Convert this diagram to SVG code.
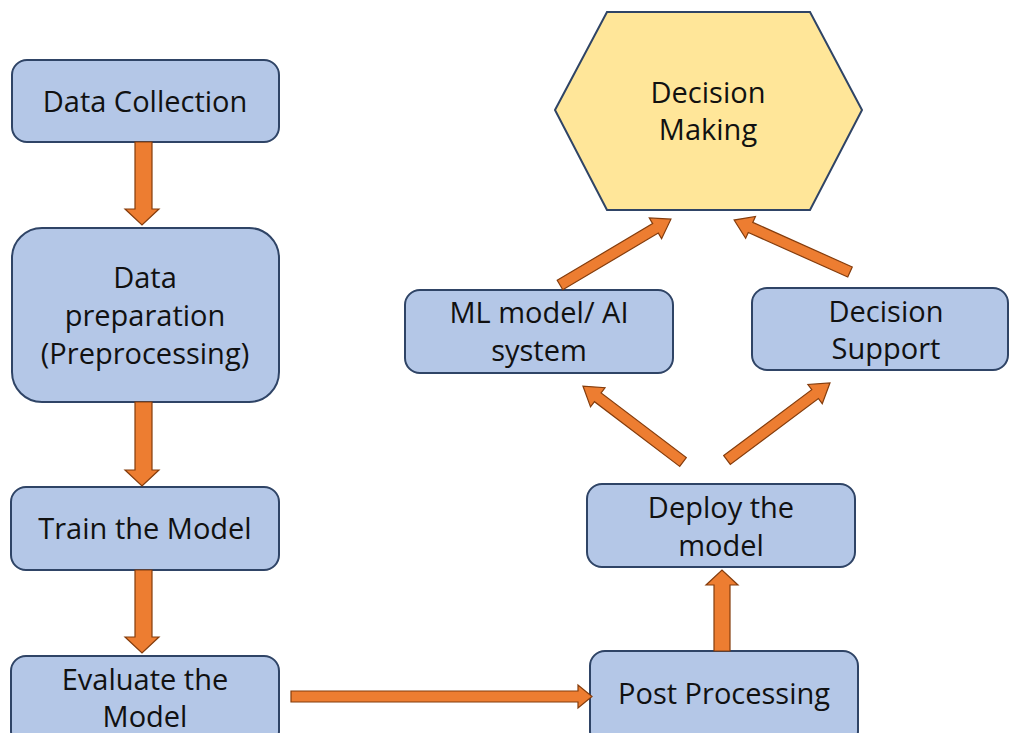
<svg xmlns="http://www.w3.org/2000/svg" width="1010" height="733" viewBox="0 0 1010 733">
<style>
.box{fill:#B4C7E7;stroke:#2F4466;stroke-width:2}
.hex{fill:#FFE699;stroke:#2F4466;stroke-width:2}
.arr{fill:#ED7D31;stroke:#843C0C;stroke-width:1.2;stroke-linejoin:miter}
.t{font-family:"Open Sans","Liberation Sans",sans-serif;font-size:29px;fill:#111;text-anchor:middle}
</style>
<rect width="1010" height="733" fill="#fff"/>
<g id="data-collection"><rect class="box" x="12" y="60" width="267" height="82" rx="15"/><text class="t" x="145" y="112">Data Collection</text></g>
<g id="data-preparation"><rect class="box" x="12" y="228" width="267" height="174" rx="30"/><text class="t" x="145" y="288">Data</text><text class="t" x="145" y="326">preparation</text><text class="t" x="145" y="364">(Preprocessing)</text></g>
<g id="train"><rect class="box" x="11" y="487" width="268" height="83" rx="15"/><text class="t" x="145" y="539">Train the Model</text></g>
<g id="evaluate"><rect class="box" x="11" y="656" width="268" height="90" rx="15"/><text class="t" x="145" y="690">Evaluate the</text><text class="t" x="145" y="727">Model</text></g>
<g id="post-processing"><rect class="box" x="590" y="651" width="268" height="95" rx="15"/><text class="t" x="724" y="704">Post Processing</text></g>
<g id="deploy"><rect class="box" x="587" y="484" width="268" height="83" rx="15"/><text class="t" x="721" y="518">Deploy the</text><text class="t" x="721" y="556">model</text></g>
<g id="ml-model"><rect class="box" x="405" y="290" width="268" height="83" rx="15"/><text class="t" x="539" y="323">ML model/ AI</text><text class="t" x="539" y="361">system</text></g>
<g id="decision-support"><rect class="box" x="752" y="288" width="256" height="82" rx="15"/><text class="t" x="886" y="322">Decision</text><text class="t" x="886" y="359">Support</text></g>
<g id="decision-making"><polygon class="hex" points="555,110 607,12 810,12 862,110 810,210 607,210"/><text class="t" x="708" y="103">Decision</text><text class="t" x="708" y="140">Making</text></g>
<g id="connectors">
<polygon class="arr" points="135,142 152,142 152,209 159,209 142,225 125,209 135,209"/>
<polygon class="arr" points="135,402 152,402 152,470 159,470 142,486 125,470 135,470"/>
<polygon class="arr" points="135,570 152,570 152,637 159,637 142,653 125,637 135,637"/>
<polygon class="arr" points="291,691 578,691 578,685 592,696.5 578,708 578,702 291,702"/>
<polygon class="arr" points="714,651 714,585 706,585 722,570 738,585 730,585 730,651"/>
<polygon class="arr" transform="translate(560,285) rotate(-30.7)" points="0,-5.5 111,-5.5 111,-12 129,0 111,12 111,5.5 0,5.5"/>
<polygon class="arr" transform="translate(850,272) rotate(-155.85)" points="0,-5.5 109,-5.5 109,-12 127,0 109,12 109,5.5 0,5.5"/>
<polygon class="arr" transform="translate(683,462) rotate(-142.8)" points="0,-5.5 107,-5.5 107,-12 125.6,0 107,12 107,5.5 0,5.5"/>
<polygon class="arr" transform="translate(727,460) rotate(-36.8)" points="0,-5.5 110,-5.5 110,-12 128.6,0 110,12 110,5.5 0,5.5"/>
</g>
</svg>
